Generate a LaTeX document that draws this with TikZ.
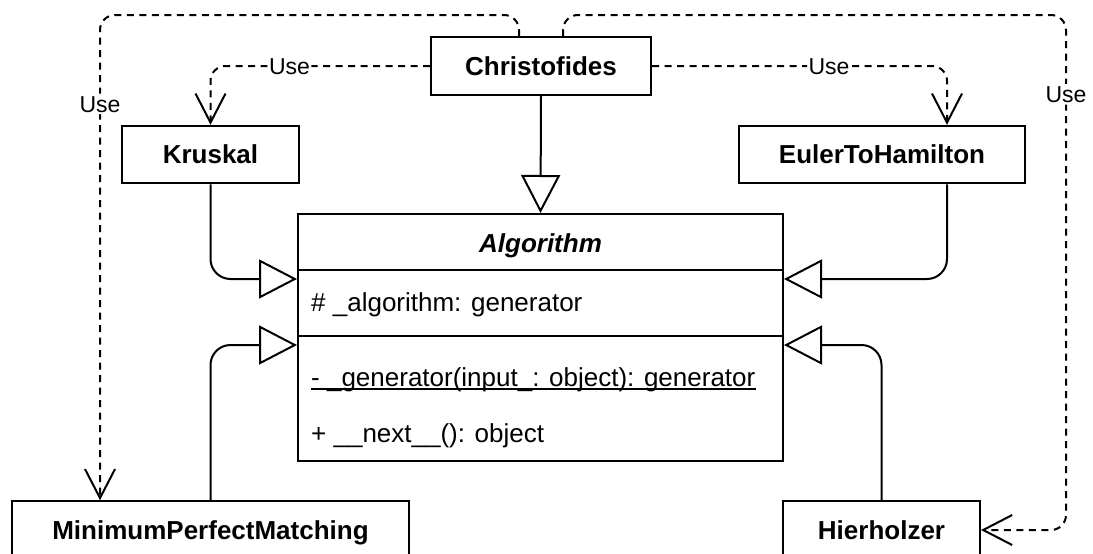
\documentclass[tikz,border=0pt]{standalone}
\usepackage{fontspec}
\setmainfont{Liberation Sans}
\usetikzlibrary{arrows.meta,calc}

\begin{document}
\begin{tikzpicture}[x=1pt,y=-1pt,
  cls/.style={draw, line width=2pt, fill=white, minimum height=57.5pt, inner sep=0pt,
    font=\fontsize{26}{30}\selectfont\bfseries, text height=18.6pt, text depth=0pt},
  member/.style={anchor=base west, inner sep=0pt, font=\fontsize{26}{30}\selectfont},
  lbl/.style={fill=white, inner xsep=1.5pt, inner ysep=2pt,
    font=\fontsize{23}{27}\selectfont, text height=16.5pt, text depth=0pt},
  dep/.style={line width=2pt, dash pattern=on 7pt off 5.5pt, rounded corners=15pt,
    -{Straight Barb[length=29pt,width=30pt]}},
  inh/.style={line width=2pt, rounded corners=20pt,
    -{Triangle[length=38pt,width=39pt,fill=white]}},
]
\useasboundingbox (0,0) rectangle (1093,554);
\clip (0,0) rectangle (1093,554);

% classes
\node[cls, minimum width=220pt] (chr) at (541,66) {Christofides};
\node[cls, minimum width=177pt] (kru) at (210.5,154.5) {Kruskal};
\node[cls, minimum width=286pt] (eul) at (882,154.5) {EulerToHamilton};
\node[cls, minimum width=397pt] (mpm) at (210.5,530) {MinimumPerfectMatching};
\node[cls, minimum width=197pt] (hie) at (881.5,530) {Hierholzer};

% abstract base class with its compartments
\node[draw, line width=2pt, minimum width=485pt, minimum height=247pt, inner sep=0pt] (alg) at (540.5,337.5) {};
\draw[line width=2pt] ([yshift=-57pt]alg.north west) -- ([yshift=-57pt]alg.north east);
\draw[line width=2pt] ([yshift=-123pt]alg.north west) -- ([yshift=-123pt]alg.north east);
\node[anchor=base, inner sep=0pt, font=\fontsize{26}{30}\selectfont\bfseries\itshape] (algname) at (540.5,252.3) {Algorithm};
\node[member] (attr) at (311,311) {\# \_algorithm: generator};
\node[member] (gen) at (311,386) {- \_generator(input\_: object): generator};
\draw[line width=1.6pt] ([yshift=-3pt]gen.base west) -- ([yshift=-3pt]gen.base east);
\node[member] (nxt) at (311,442.3) {+ \_\_next\_\_(): object};

% generalisations
\draw[inh] (chr.south) -- (alg.north);
\draw[inh] (kru.south) |- ([yshift=-66pt]alg.north west);
\draw[inh] (mpm.north) |- ([yshift=-132pt]alg.north west);
\draw[inh] ([xshift=65pt]eul.south) |- ([yshift=-66pt]alg.north east);
\draw[inh] (hie.north) |- ([yshift=-132pt]alg.north east);

% dependencies
\coordinate (ltop) at (100,15);
\coordinate (rtop) at (1066,15);
\draw[dep] (chr.west) -| node[lbl, pos=0.32] {Use} (kru.north);
\draw[dep] (chr.east) -| node[lbl, pos=0.30] {Use} ([xshift=65pt]eul.north);
\draw[dep] ([xshift=-22pt]chr.north) |- (ltop) -- node[lbl, pos=0.183] {Use} ([xshift=-110.5pt]mpm.north);
\draw[dep] ([xshift=22pt]chr.north) |- (rtop) |- node[lbl, pos=0.077] {Use} (hie.east);
\end{tikzpicture}
\end{document}
